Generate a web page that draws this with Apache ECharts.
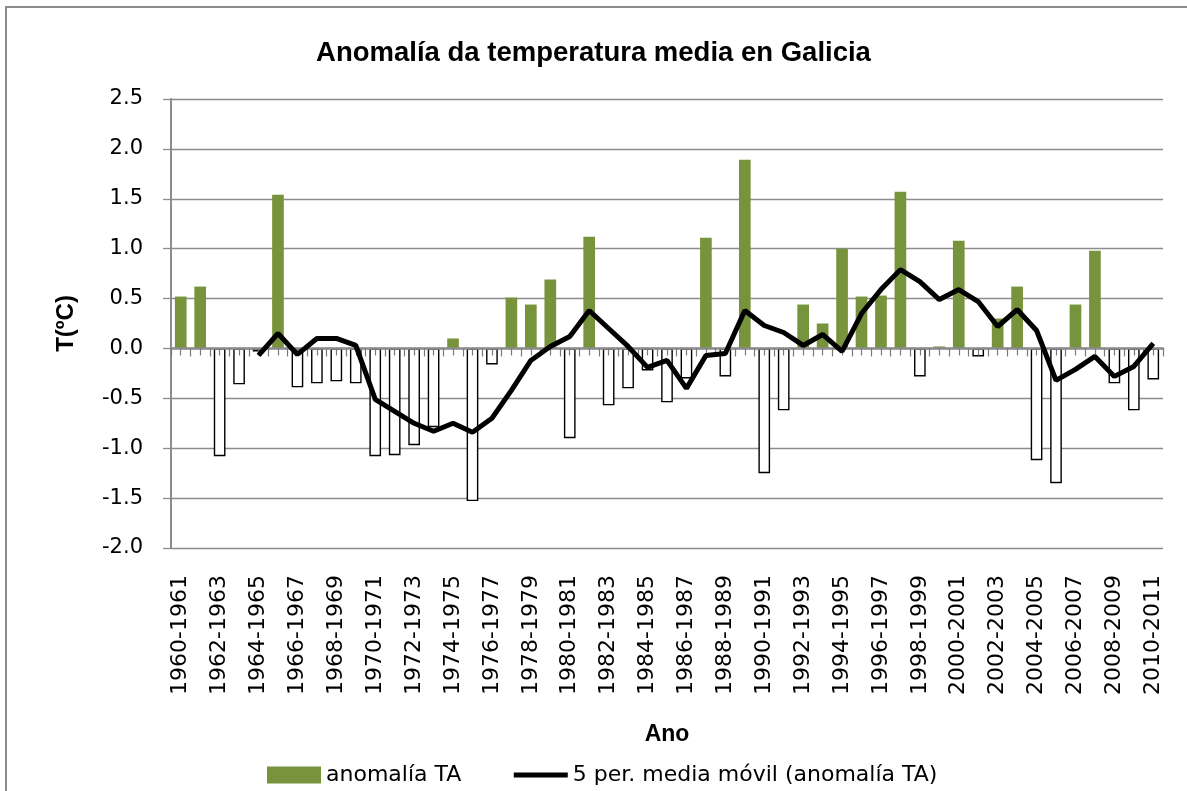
<!DOCTYPE html>
<html>
<head>
<meta charset="utf-8">
<title>Anomalía da temperatura media en Galicia</title>
<script src="https://cdn.jsdelivr.net/npm/echarts@6/dist/echarts.min.js"></script>
<style>
  html, body { margin: 0; padding: 0; background: #fff; }
</style>
</head>
<body>
<div id="main" style="width: 1187px; height: 791px;"></div>
<script>
var periods = ['1960-1961', '1961-1962', '1962-1963', '1963-1964', '1964-1965', '1965-1966', '1966-1967', '1967-1968', '1968-1969', '1969-1970',
  '1970-1971', '1971-1972', '1972-1973', '1973-1974', '1974-1975', '1975-1976', '1976-1977', '1977-1978', '1978-1979', '1979-1980',
  '1980-1981', '1981-1982', '1982-1983', '1983-1984', '1984-1985', '1985-1986', '1986-1987', '1987-1988', '1988-1989', '1989-1990',
  '1990-1991', '1991-1992', '1992-1993', '1993-1994', '1994-1995', '1995-1996', '1996-1997', '1997-1998', '1998-1999', '1999-2000',
  '2000-2001', '2001-2002', '2002-2003', '2003-2004', '2004-2005', '2005-2006', '2006-2007', '2007-2008', '2008-2009', '2009-2010',
  '2010-2011']

// anomalía TA (ºC)
var anomalia = [0.52, 0.62, -1.08, -0.36, -0.03, 1.54, -0.39, -0.35, -0.33, -0.35,
  -1.08, -1.07, -0.97, -0.79, 0.10, -1.53, -0.16, 0.51, 0.44, 0.69,
  -0.90, 1.12, -0.57, -0.40, -0.22, -0.54, -0.30, 1.11, -0.28, 1.89,
  -1.25, -0.62, 0.44, 0.25, 1.00, 0.52, 0.53, 1.57, -0.28, 0.02,
  1.08, -0.08, 0.30, 0.62, -1.12, -1.35, 0.44, 0.98, -0.35, -0.62,
  -0.31]

// 5 per. media móvil
var mediaMovil = [null, null, null, null, -0.07, 0.15, -0.06, 0.10, 0.10, 0.03,
  -0.51, -0.63, -0.75, -0.83, -0.75, -0.84, -0.70, -0.42, -0.12, 0.02,
  0.12, 0.38, 0.20, 0.02, -0.19, -0.12, -0.40, -0.07, -0.05, 0.38,
  0.23, 0.16, 0.03, 0.14, -0.03, 0.35, 0.59, 0.79, 0.67, 0.49,
  0.59, 0.47, 0.22, 0.39, 0.18, -0.32, -0.21, -0.08, -0.28, -0.18,
  0.05]

var green = '#77933C'
var gray = '#8c8c8c'

var barData = anomalia.map(function (v) {
  if (v >= 0) return v
  return { value: v, itemStyle: { color: '#fff', borderColor: '#000', borderWidth: 1.4 } }
})

var chart = echarts.init(document.getElementById('main'))
chart.setOption({
  animation: false,
  backgroundColor: '#fff',
  graphic: [{
    type: 'rect',
    shape: { x: 6, y: 7, width: 1300, height: 1000 },
    style: { fill: 'none', stroke: gray, lineWidth: 2 }
  }],
  title: {
    text: 'Anomalía da temperatura media en Galicia',
    left: 'center',
    top: 34,
    textStyle: { fontFamily: 'Liberation Sans', fontWeight: 'bold', fontSize: 27.5, color: '#000' }
  },
  legend: {
    data: [
      { name: 'anomalía TA', icon: 'rect' },
      { name: '5 per. media móvil (anomalía TA)', itemStyle: { opacity: 0 }, lineStyle: { width: 5 } }
    ],
    left: 262,
    top: 759,
    itemWidth: 54,
    itemHeight: 17,
    itemGap: 50,
    textStyle: { fontFamily: 'DejaVu Sans', fontSize: 22, color: '#000' }
  },
  grid: { left: 171, right: 24, top: 99, bottom: 243 },
  xAxis: [
    {
      type: 'category',
      data: periods,
      position: 'bottom',
      name: 'Ano',
      nameLocation: 'middle',
      nameGap: 175,
      nameTextStyle: { fontFamily: 'Liberation Sans', fontWeight: 'bold', fontSize: 23, color: '#000' },
      axisLine: { show: false, onZero: false },
      axisTick: { show: false },
      axisLabel: {
        rotate: 90,
        interval: 1,
        margin: 27,
        fontFamily: 'DejaVu Sans',
        fontSize: 22,
        color: '#000'
      }
    },
    {
      // eje no cero, só para a liña e as marcas
      type: 'value',
      min: 0,
      max: 51,
      interval: 1,
      position: 'bottom',
      z: 3,
      axisLine: { show: true, onZero: true, lineStyle: { color: gray, width: 2.5 } },
      axisTick: { show: true, length: 8, lineStyle: { color: '#7a7a7a', width: 1.2 } },
      minorTick: { show: true, splitNumber: 2, length: 7, lineStyle: { color: '#7a7a7a', width: 1.2 } },
      axisLabel: { show: false },
      splitLine: { show: false }
    }
  ],
  yAxis: {
    type: 'value',
    min: -2,
    max: 2.5,
    interval: 0.5,
    name: 'T(ºC)',
    nameLocation: 'middle',
    nameRotate: 90,
    nameGap: 93,
    nameTextStyle: { fontFamily: 'Liberation Sans', fontWeight: 'bold', fontSize: 24, color: '#000' },
    axisLine: { show: true, lineStyle: { color: gray, width: 2 } },
    axisTick: { show: true, length: 8, lineStyle: { color: gray, width: 1.3 } },
    axisLabel: {
      margin: 28,
      fontFamily: 'DejaVu Sans',
      fontSize: 21,
      color: '#000',
      formatter: function (v) { return v.toFixed(1) }
    },
    splitLine: { lineStyle: { color: gray, width: 1.3 } }
  },
  series: [
    {
      name: 'anomalía TA',
      type: 'bar',
      xAxisIndex: 0,
      barWidth: '60%',
      itemStyle: { color: green },
      data: barData
    },
    {
      name: '5 per. media móvil (anomalía TA)',
      type: 'line',
      xAxisIndex: 0,
      symbol: 'none',
      z: 5,
      lineStyle: { color: '#000', width: 5 },
      itemStyle: { color: '#000' },
      data: mediaMovil
    }
  ]
})
</script>
</body>
</html>
